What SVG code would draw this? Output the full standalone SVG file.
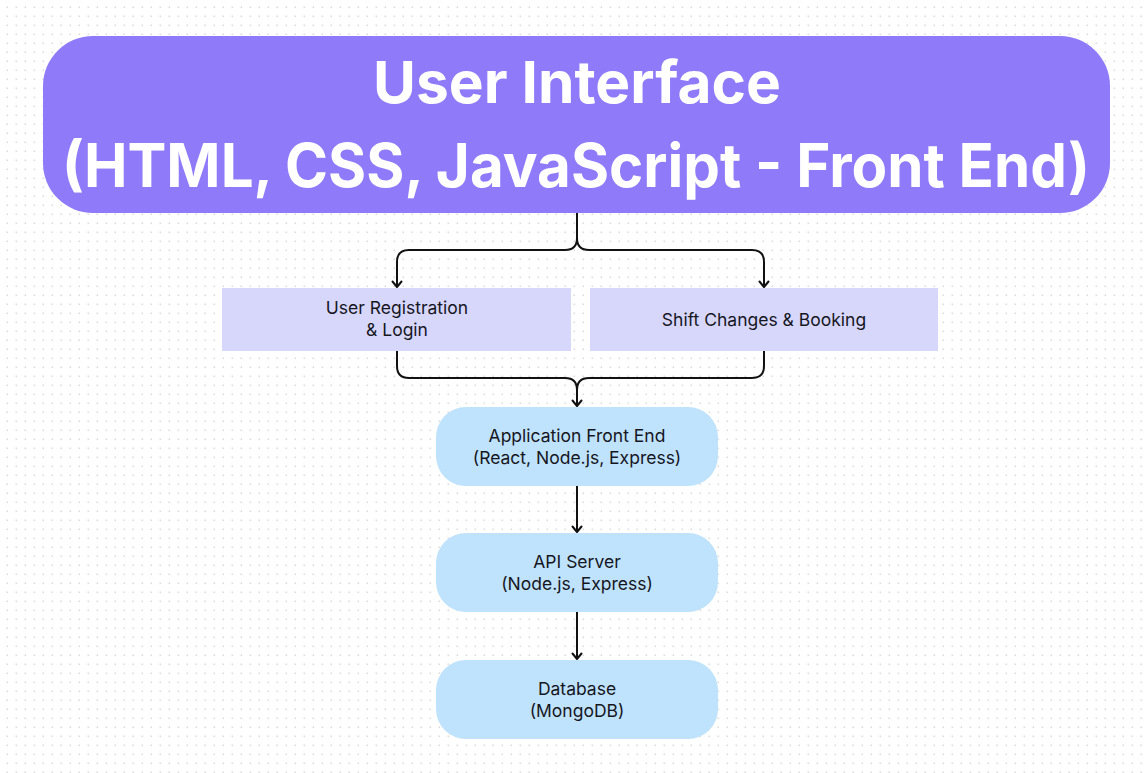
<svg xmlns="http://www.w3.org/2000/svg" width="1148" height="773" viewBox="0 0 1148 773">
<defs>
<pattern id="dots" x="3" y="3" width="9" height="9" patternUnits="userSpaceOnUse">
<rect x="3.5" y="3.5" width="1.6" height="1.6" fill="#dcdcdc"/>
</pattern>
<style>
.hdr{fill:#8f7af9}
.rectnode{fill:#d7d7fc}
.pill{fill:#bfe3fc}
.ht{font-family:Inter,"Liberation Sans",sans-serif;font-weight:700;fill:#ffffff;text-anchor:middle}
.nt{font-family:Inter,"Liberation Sans",sans-serif;font-size:17.5px;fill:#16161f;text-anchor:middle}
.con{fill:none;stroke:#111;stroke-width:2;stroke-linejoin:round}
.ah{fill:none;stroke:#111;stroke-width:2;stroke-linecap:round;stroke-linejoin:round}
</style>
</defs>
<rect width="1148" height="773" fill="#ffffff"/>
<rect width="1148" height="773" fill="url(#dots)"/>

<g id="connectors">
<path class="con" d="M577 212 V238 Q577 250 565 250 H409 Q397 250 397 262 V287"/>
<path class="con" d="M577 212 V238 Q577 250 589 250 H752 Q764 250 764 262 V287"/>
<path class="ah" d="M392.5 281.5 L397 287 L401.5 281.5"/>
<path class="ah" d="M759.5 281.5 L764 287 L768.5 281.5"/>
<path class="con" d="M397 351 V366 Q397 378 409 378 H565 Q577 378 577 390 V406"/>
<path class="con" d="M764 351 V366 Q764 378 752 378 H589 Q577 378 577 390 V406"/>
<path class="ah" d="M572.5 400.5 L577 406 L581.5 400.5"/>
<path class="con" d="M577 486 V532"/>
<path class="ah" d="M572.5 526.5 L577 532 L581.5 526.5"/>
<path class="con" d="M577 612 V659"/>
<path class="ah" d="M572.5 653.5 L577 659 L581.5 653.5"/>
</g>

<g id="ui">
<rect class="hdr" x="43" y="36" width="1067" height="177" rx="50"/>
<text class="ht" x="577" y="103" font-size="58" textLength="408" lengthAdjust="spacingAndGlyphs">User Interface</text>
<text class="ht" x="576" y="187" font-size="60" textLength="1028" lengthAdjust="spacingAndGlyphs">(HTML, CSS, JavaScript - Front End)</text>
</g>

<g id="registration">
<rect class="rectnode" x="222" y="288" width="349" height="63"/>
<text class="nt" x="397" y="314">User Registration</text>
<text class="nt" x="397" y="336">&amp; Login</text>
</g>

<g id="shift">
<rect class="rectnode" x="590" y="288" width="348" height="63"/>
<text class="nt" x="764" y="326">Shift Changes &amp; Booking</text>
</g>

<g id="frontend">
<rect class="pill" x="436" y="407" width="282" height="79" rx="30"/>
<text class="nt" x="577" y="442">Application Front End</text>
<text class="nt" x="577" y="464">(React, Node.js, Express)</text>
</g>

<g id="api">
<rect class="pill" x="436" y="533" width="282" height="79" rx="30"/>
<text class="nt" x="577" y="568">API Server</text>
<text class="nt" x="577" y="590">(Node.js, Express)</text>
</g>

<g id="database">
<rect class="pill" x="436" y="660" width="282" height="79" rx="30"/>
<text class="nt" x="577" y="695">Database</text>
<text class="nt" x="577" y="717">(MongoDB)</text>
</g>
</svg>
